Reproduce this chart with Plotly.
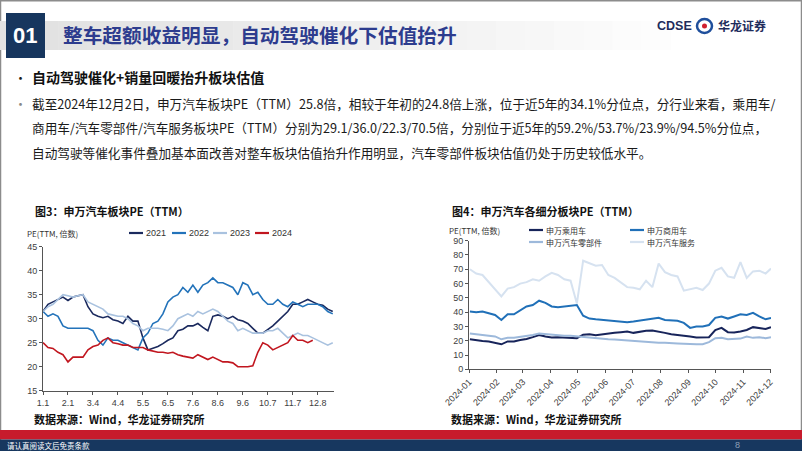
import plotly.graph_objects as go

W, H = 802, 451


def px(x):
    return x / W


def py(y):
    return 1 - y / H


# ---------------- Figure 3 data (trading-day index within year) ----------------
day_idx = list(range(0, 233, 4))
tick_idx = [0, 20, 40, 60, 80, 100, 120, 140, 160, 180, 200, 220]
tick_labels = ["1.1", "2.1", "3.4", "4.4", "5.5", "6.5", "7.6", "8.6", "9.6", "10.7", "11.7", "12.8"]

pe_2021 = [31.5, 33, 33.5, 34, 34.5, 33.8, 34.5, 34.8, 35, 32.5, 31, 30.5, 30.2, 30.5, 29.8,
           29.5, 29, 30.5, 29.5, 29.5, 26, 23.5, 23.8, 24.2, 24.8, 25.5, 26, 27.5, 27.8, 28.5,
           28.5, 29, 28.2, 27.5, 30.5, 30.8, 30.5, 30, 30.5, 29.8, 29.5, 29, 28, 27, 27,
           27.8, 28.5, 29.5, 30.5, 31.5, 33, 33, 33.5, 34, 33.5, 33, 32.8, 32, 31.5]
pe_2022 = [31.5, 30.5, 31, 30.5, 28.5, 28, 28, 28, 28, 28, 27.5, 25.5, 24.5, 26, 25.5,
           25.5, 25, 24.5, 24, 23.5, 26, 27, 29, 29.5, 31, 33.5, 34.5, 35, 36.5, 35.5,
           37, 35.5, 37, 37.5, 38.5, 37.5, 37.5, 37, 36.5, 35, 37.5, 37, 35, 35.5, 34,
           33, 33, 34, 33, 32.5, 33.5, 33, 32.5, 33, 33, 33, 32.5, 31.5, 31]
pe_2023 = [31.5, 32.5, 33, 34, 35, 34.8, 34.5, 34.8, 35, 33.5, 33, 32.5, 32, 31, 30.8,
           30.5, 30.5, 30, 29, 28.5, 27.5, 28, 28, 28, 27.8, 27.5, 28.5, 30, 30.5, 31,
           30.5, 31.5, 31, 31.5, 32, 31.5, 30.5, 29.5, 29, 27.5, 28, 27.5, 27, 27, 27,
           27.5, 27.5, 28, 27, 26, 26.5, 27, 26.5, 26.5, 26, 25.5, 25, 24.5, 25]
pe_2024 = [25, 24, 23.8, 23, 22.5, 21, 22, 22, 22, 23.5, 24.2, 24.5, 25.5, 26, 25,
           24.8, 24.5, 24.5, 24, 24, 24, 23.5, 23.2, 23, 23, 22.8, 23, 22.5, 22.2, 22,
           21.8, 22.5, 22, 21.5, 22, 21.5, 21, 21, 20.8, 20, 20, 20, 20.2, 23, 25,
           24.5, 23.5, 24, 24.5, 25, 26.5, 25.5, 25.5, 25, 25.5]

# ---------------- Figure 4 data (weekly, 2024) ----------------
dates_2024 = ["2024-01-02", "2024-01-09", "2024-01-16", "2024-01-23", "2024-01-30",
              "2024-02-06", "2024-02-13", "2024-02-20", "2024-02-27", "2024-03-05",
              "2024-03-12", "2024-03-19", "2024-03-26", "2024-04-02", "2024-04-09",
              "2024-04-16", "2024-04-23", "2024-04-30", "2024-05-07", "2024-05-14",
              "2024-05-21", "2024-05-28", "2024-06-04", "2024-06-11", "2024-06-18",
              "2024-06-25", "2024-07-02", "2024-07-09", "2024-07-16", "2024-07-23",
              "2024-07-30", "2024-08-06", "2024-08-13", "2024-08-20", "2024-08-27",
              "2024-09-03", "2024-09-10", "2024-09-17", "2024-09-24", "2024-10-01",
              "2024-10-08", "2024-10-15", "2024-10-22", "2024-10-29", "2024-11-05",
              "2024-11-12", "2024-11-19", "2024-11-26", "2024-12-02"]
month_ticks = ["2024-01-01", "2024-02-01", "2024-03-01", "2024-04-01", "2024-05-01",
               "2024-06-01", "2024-07-01", "2024-08-01", "2024-09-01", "2024-10-01",
               "2024-11-01", "2024-12-01"]

pe_passenger = [21, 20.2, 19.8, 19.5, 18.5, 17.5, 19.5, 19.5, 20.5, 21.2, 22.5, 24, 23, 22.2,
                22.5, 22.3, 22, 21.8, 24.2, 24.5, 23.8, 24.5, 25, 25.5, 26, 26.5, 25.5, 26.5,
                27, 27.2, 26.5, 25.5, 24.5, 24, 24, 23, 22.3, 22.3, 22.5, 27.5, 29, 26,
                25.8, 26.5, 27.5, 29.5, 29, 28.2, 29.5]
pe_commercial = [40.5, 40, 40.5, 39, 38, 34.5, 38.5, 38.5, 41.5, 44, 45, 48, 46.5, 44,
                 43.5, 44, 44.5, 45, 37.5, 35.5, 35, 34.5, 34, 33.8, 33.5, 33, 33.5, 34,
                 35, 35.5, 36, 34.5, 34.5, 34, 32.5, 29, 30, 30, 31, 36, 37, 35.5,
                 37, 38.5, 38, 39.5, 37, 35, 36]
pe_parts = [25, 24.5, 24.3, 23.8, 23, 21, 22, 22, 22.5, 23.5, 24, 25, 24.5, 24.5,
            24, 23.5, 23.5, 23, 22.8, 22.3, 22, 21.5, 21, 20.8, 20.5, 20, 19.5, 19.5,
            19, 18.5, 18.5, 18.5, 18, 18, 17.8, 17.5, 17.5, 17.5, 19, 21.8, 22, 21,
            21, 21.5, 23, 22, 22.5, 21.8, 22.5]
pe_service = [70, 67, 66, 61, 56, 51, 56.5, 57.5, 60, 61, 63, 62, 65, 67.5,
              66, 63, 62, 46, 76, 74, 72.5, 73, 66, 64, 61, 57.5, 57, 56,
              62, 57.5, 74, 68, 66, 65, 55, 56, 57, 55.5, 60, 69, 71, 65,
              64, 75, 64, 68.5, 69, 67, 70.5]

left_series = [("2021", pe_2021, "#1B2A5E"), ("2022", pe_2022, "#2373BA"),
               ("2023", pe_2023, "#A9C2DF"), ("2024", pe_2024, "#C1161F")]
right_series = [("申万乘用车", pe_passenger, "#17245A"), ("申万商用车", pe_commercial, "#2070B8"),
                ("申万汽车零部件", pe_parts, "#9DB9DB"), ("申万汽车服务", pe_service, "#D6E2F0")]

fig = go.Figure()

for name, vals, col in left_series:
    fig.add_trace(go.Scatter(x=day_idx[:len(vals)], y=vals, mode="lines", name=name,
                             line=dict(color=col, width=1.6), xaxis="x", yaxis="y",
                             showlegend=False))

for name, vals, col in right_series:
    fig.add_trace(go.Scatter(x=dates_2024, y=vals, mode="lines", name=name,
                             line=dict(color=col, width=2), xaxis="x2", yaxis="y2",
                             showlegend=False))

tick_font = dict(family="Liberation Sans, Arial", size=9, color="#404040")
axis_common = dict(showgrid=False, zeroline=False, showline=True, linecolor="#555555",
                   linewidth=1, ticks="outside", ticklen=3, tickcolor="#555555",
                   tickfont=tick_font, automargin=False)

fig.update_layout(
    template="none",
    width=W, height=H, margin=dict(l=0, r=0, t=0, b=0, pad=0), autosize=False,
    paper_bgcolor="white", plot_bgcolor="white",
    font=dict(family="Noto Sans CJK SC", color="#222222"),
    xaxis=dict(domain=[px(43), px(334)], range=[0, 233], tickmode="array",
               tickvals=tick_idx, ticktext=tick_labels, anchor="y", **axis_common),
    yaxis=dict(domain=[py(390.7), py(246.7)], range=[15, 45], dtick=5, anchor="x",
               **axis_common),
    xaxis2=dict(domain=[px(469), px(771)], type="date",
                range=["2024-01-01", "2024-12-02"], tickmode="array",
                tickvals=month_ticks, tickformat="%Y-%m", tickangle=-45, anchor="y2",
                **axis_common),
    yaxis2=dict(domain=[py(369.3), py(240.7)], range=[0, 90], dtick=10, anchor="x2",
                **axis_common),
)

shapes = []
annos = []

# slide frame
shapes.append(dict(type="rect", xref="paper", yref="paper", x0=px(0.5), x1=px(801.5),
                   y0=py(450.5), y1=py(0.7), line=dict(color="#8C8C8C", width=1.5),
                   fillcolor="rgba(0,0,0,0)", layer="below"))

# title band with fading grey
steps = 24
for i in range(steps):
    x0 = 700 * i / steps
    x1 = 700 * (i + 1) / steps
    c = int(226 + (255 - 226) * (i / (steps - 1)) ** 1.2)
    shapes.append(dict(type="rect", xref="paper", yref="paper", x0=px(x0), x1=px(x1 + 0.5),
                       y0=py(50), y1=py(21), line=dict(width=0),
                       fillcolor=f"rgb({c},{c},{c})", layer="below"))
# number box
shapes.append(dict(type="rect", xref="paper", yref="paper", x0=px(6), x1=px(45),
                   y0=py(58), y1=py(13), line=dict(width=0), fillcolor="#17365E"))
annos.append(dict(text="<b>01</b>", x=px(25.5), y=py(35), xanchor="center", yanchor="middle",
                  font=dict(family="Liberation Sans, Arial", size=22, color="white")))
annos.append(dict(text="<b>整车超额收益明显，自动驾驶催化下估值抬升</b>", x=px(61), y=py(34),
                  xanchor="left", yanchor="middle",
                  font=dict(family="Noto Sans CJK SC", size=19.7, color="#2D3C8E")))

# logo
annos.append(dict(text="<b>CDSE</b>", x=px(655), y=py(26), xanchor="left", yanchor="middle",
                  font=dict(family="Liberation Sans, Arial", size=12.5, color="#1F2C5C")))
shapes.append(dict(type="circle", xref="paper", yref="paper", x0=px(697), x1=px(712),
                   y0=py(33), y1=py(19), line=dict(color="#1F4F9C", width=2.5),
                   fillcolor="white"))
shapes.append(dict(type="circle", xref="paper", yref="paper", x0=px(702), x1=px(707),
                   y0=py(28.5), y1=py(23.5), line=dict(width=0), fillcolor="#D0202E"))
annos.append(dict(text="<b>华龙证券</b>", x=px(716), y=py(26), xanchor="left", yanchor="middle",
                  font=dict(family="Noto Sans CJK SC", size=12, color="#1F2C5C")))

# body text
body_font = dict(family="Noto Sans CJK SC", size=12.65, color="#1A1A1A")
annos.append(dict(text="•", x=px(12), y=py(77), xanchor="left", yanchor="middle",
                  font=dict(family="Noto Sans CJK SC", size=13, color="#1A1A1A")))
annos.append(dict(text="<b>自动驾驶催化+销量回暖抬升板块估值</b>", x=px(30), y=py(77),
                  xanchor="left", yanchor="middle",
                  font=dict(family="Noto Sans CJK SC", size=14, color="#111111")))
annos.append(dict(text="•", x=px(12), y=py(103), xanchor="left", yanchor="middle",
                  font=dict(family="Noto Sans CJK SC", size=13, color="#888888")))
body_lines = [
    "截至2024年12月2日，申万汽车板块PE（TTM）25.8倍，相较于年初的24.8倍上涨，位于近5年的34.1%分位点，分行业来看，乘用车/",
    "商用车/汽车零部件/汽车服务板块PE（TTM）分别为29.1/36.0/22.3/70.5倍，分别位于近5年的59.2%/53.7%/23.9%/94.5%分位点，",
    "自动驾驶等催化事件叠加基本面改善对整车板块估值抬升作用明显，汽车零部件板块估值仍处于历史较低水平。",
]
for i, t in enumerate(body_lines):
    annos.append(dict(text=t, x=px(30), y=py(103 + 24.7 * i), xanchor="left",
                      yanchor="middle", font=body_font))

# chart titles
title_font = dict(family="Noto Sans CJK SC", size=11, color="#111111")
annos.append(dict(text="<b>图3：申万汽车板块PE（TTM）</b>", x=px(33), y=py(211), xanchor="left",
                  yanchor="middle", font=title_font))
annos.append(dict(text="<b>图4：申万汽车各细分板块PE（TTM）</b>", x=px(450), y=py(211),
                  xanchor="left", yanchor="middle", font=title_font))

small_font = dict(family="Noto Sans CJK SC", size=8, color="#333333")
annos.append(dict(text="PE(TTM, 倍数)", x=px(25), y=py(234), xanchor="left", yanchor="middle",
                  font=small_font))
annos.append(dict(text="PE(TTM, 倍数)", x=px(447), y=py(230), xanchor="left", yanchor="middle",
                  font=small_font))

# legends (manual)
left_leg_x = [129, 172, 213, 255]
for (name, _, col), lx in zip(left_series, left_leg_x):
    shapes.append(dict(type="line", xref="paper", yref="paper", x0=px(lx), x1=px(lx + 14),
                       y0=py(233), y1=py(233), line=dict(color=col, width=2.2)))
    annos.append(dict(text=name, x=px(lx + 15), y=py(233), xanchor="left", yanchor="middle",
                      font=dict(family="Liberation Sans, Arial", size=9, color="#333333")))
right_leg_pos = [(529, 230), (630, 230), (529, 242), (630, 242)]
for (name, _, col), (lx, ly) in zip(right_series, right_leg_pos):
    shapes.append(dict(type="line", xref="paper", yref="paper", x0=px(lx), x1=px(lx + 14),
                       y0=py(ly), y1=py(ly), line=dict(color=col, width=2.2)))
    annos.append(dict(text=name, x=px(lx + 15), y=py(ly), xanchor="left", yanchor="middle",
                      font=small_font))

# sources
src_font = dict(family="Noto Sans CJK SC", size=11, color="#111111")
annos.append(dict(text="<b>数据来源：Wind，华龙证券研究所</b>", x=px(32), y=py(419),
                  xanchor="left", yanchor="middle", font=src_font))
annos.append(dict(text="<b>数据来源：Wind，华龙证券研究所</b>", x=px(449), y=py(419),
                  xanchor="left", yanchor="middle", font=src_font))

# footer bands
shapes.append(dict(type="rect", xref="paper", yref="paper", x0=0, x1=1, y0=py(439.5), y1=py(430),
                   line=dict(width=0), fillcolor="#C71B2C"))
shapes.append(dict(type="rect", xref="paper", yref="paper", x0=0, x1=1, y0=0, y1=py(439.5),
                   line=dict(width=0), fillcolor="#17375F"))
annos.append(dict(text="请认真阅读文后免责条款", x=px(5), y=py(445), xanchor="left",
                  yanchor="middle", font=dict(family="Noto Sans CJK SC", size=7.5, color="white")))
annos.append(dict(text="8", x=px(737), y=py(445), xanchor="center", yanchor="middle",
                  font=dict(family="Liberation Sans, Arial", size=9, color="#8FA0B8")))

for a in annos:
    a.setdefault("xref", "paper")
    a.setdefault("yref", "paper")
    a.setdefault("showarrow", False)

fig.update_layout(shapes=shapes, annotations=annos)
fig.write_html("out.html", config={"displayModeBar": False, "staticPlot": True},
               post_script="document.body.style.margin='0';document.body.style.overflow='hidden';")
